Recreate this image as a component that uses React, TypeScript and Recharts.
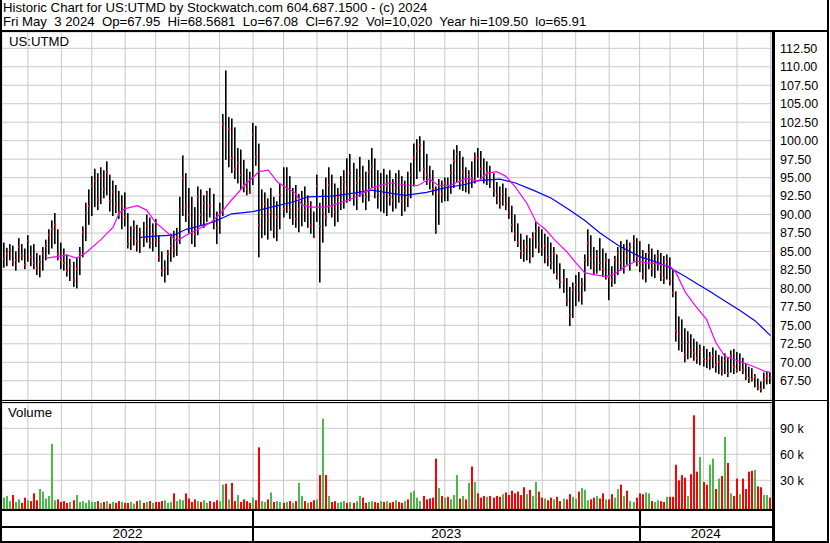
import React from 'react';
import { ComposedChart, Bar, Line, XAxis, YAxis, CartesianGrid } from 'recharts';

// daily bars grouped two trading days per bar, May 2022 - May 2024
const highs = [
  86.2, 85.5, 86.0, 85.8, 85.0, 86.8, 86.0, 85.4, 87.2,
  85.8, 86.0, 84.8, 84.5, 85.6, 86.6, 88.0, 89.2, 90.2, 88.0, 86.2,
  85.4, 84.6, 84.0, 83.6, 84.2, 85.6, 88.4, 91.6, 93.4, 95.2,
  96.2, 95.6, 96.4, 96.0, 97.2, 95.4, 94.6, 94.0, 93.2, 92.6, 93.0,
  90.2, 88.4, 89.2, 88.6, 88.2, 89.0, 90.0, 89.6, 88.8, 89.4,
  87.2, 85.0, 83.8, 85.2, 87.4, 87.8, 88.2, 92.4, 98.0, 95.6, 93.6,
  92.4, 91.0, 93.8, 93.4, 92.6, 93.2, 93.6, 92.8, 90.4, 91.6,
  103.6, 109.5, 103.2, 103.0, 101.8, 99.0, 98.8, 97.4, 96.2, 95.8, 102.4,
  102.0, 99.6, 93.4, 93.0, 92.2, 93.6, 92.4, 91.8, 94.2, 96.4,
  96.4, 95.2, 93.6, 94.0, 92.8, 93.2, 93.8, 92.6, 91.8, 90.4, 95.4,
  91.6, 93.4, 95.0, 96.4, 95.4, 94.2, 93.6, 95.2, 96.0, 97.6,
  98.2, 97.0, 96.2, 97.8, 96.6, 95.8, 97.4, 99.0, 97.6, 96.0, 95.6,
  96.2, 95.4, 96.0, 94.8, 95.6, 96.0, 95.2, 94.6, 95.8, 97.0, 99.6,
  100.2, 100.6, 100.0, 98.2, 96.6, 96.0, 93.8, 94.8, 94.6, 95.0,
  95.0, 96.8, 98.8, 99.4, 98.6, 97.8, 96.4, 96.0, 97.2, 98.4,
  99.0, 98.6, 97.6, 97.2, 96.6, 95.6, 94.4, 93.8, 94.2, 93.6, 92.4,
  91.2, 90.0, 88.8, 87.4, 86.6, 87.2, 86.8, 87.6, 89.0, 88.4, 88.0,
  87.4, 87.0, 86.2, 85.6, 84.6, 83.4, 82.6, 81.4, 80.2, 80.8,
  81.8, 82.2, 81.4, 84.6, 88.0, 87.2, 85.6, 85.2, 86.8, 85.4, 84.8,
  84.0, 83.0, 84.4, 85.6, 86.4, 86.0, 86.6, 86.2, 87.2, 86.8,
  86.4, 85.2, 84.8, 86.0, 85.4, 84.6, 85.2, 84.8, 84.4, 84.6, 84.2,
  82.6, 79.6, 76.2, 75.8, 74.6, 74.2, 73.8, 73.2, 72.8, 72.4,
  72.2, 71.8, 71.4, 72.0, 71.6, 71.0, 70.8, 71.2, 70.6, 71.6, 71.8,
  71.4, 71.2, 70.6, 69.8, 69.4, 69.2, 68.4, 67.8, 67.4, 68.6,
  68.8, 68.57,
];

const lows = [
  82.8, 83.0, 83.8, 83.0, 82.4, 83.5, 83.8, 82.6, 83.6,
  83.0, 82.6, 81.8, 81.5, 82.4, 83.8, 84.6, 85.4, 86.0, 83.8, 82.6,
  82.4, 81.6, 81.0, 80.2, 80.0, 81.8, 84.2, 86.4, 88.6, 89.8,
  91.0, 90.6, 91.4, 92.2, 92.6, 90.4, 89.8, 90.2, 89.4, 88.0, 88.4,
  85.4, 85.2, 85.8, 85.0, 84.8, 85.6, 86.2, 85.4, 85.0, 85.6,
  83.6, 81.6, 80.8, 81.8, 83.6, 84.2, 84.4, 86.0, 89.8, 89.0, 87.4,
  86.0, 85.6, 87.2, 88.6, 88.2, 89.0, 89.6, 88.0, 86.0, 87.4,
  89.8, 97.4, 96.4, 95.6, 94.8, 94.2, 93.4, 93.0, 92.6, 92.8, 94.0,
  96.6, 84.2, 86.8, 87.2, 86.6, 87.8, 86.8, 86.4, 88.0, 89.6,
  90.2, 89.4, 88.6, 88.2, 87.6, 88.4, 89.0, 88.2, 87.4, 86.8, 89.0,
  80.8, 86.2, 88.4, 90.2, 89.6, 88.4, 89.0, 90.6, 90.8, 91.6,
  91.8, 91.2, 90.6, 92.4, 91.6, 90.6, 91.8, 93.6, 92.2, 90.8, 90.4,
  90.2, 89.8, 91.2, 90.4, 90.8, 91.6, 89.8, 90.4, 91.0, 92.2, 93.8,
  94.8, 95.8, 94.6, 94.0, 93.4, 92.6, 87.4, 88.6, 91.6, 91.8,
  91.8, 92.8, 93.6, 94.4, 93.4, 93.2, 93.0, 92.8, 93.6, 94.2,
  95.0, 94.8, 94.2, 94.0, 93.6, 92.4, 91.4, 90.8, 91.2, 90.6, 89.4,
  87.6, 86.4, 85.6, 84.0, 83.6, 83.8, 83.4, 84.2, 85.4, 84.8, 84.4,
  83.4, 83.0, 82.6, 82.0, 81.2, 80.0, 79.4, 77.6, 74.9, 76.0,
  77.6, 78.2, 77.8, 79.6, 83.0, 82.6, 81.8, 82.0, 82.4, 81.6, 81.2,
  78.4, 80.2, 80.6, 81.8, 82.4, 82.0, 83.2, 82.4, 83.6, 83.0,
  82.2, 81.2, 80.8, 82.6, 81.6, 81.4, 82.4, 81.0, 80.6, 81.2, 80.4,
  78.8, 72.8, 71.6, 71.4, 70.0, 70.4, 70.6, 70.2, 69.8, 69.6,
  69.4, 69.2, 69.0, 69.2, 68.6, 68.4, 68.2, 68.4, 68.0, 68.6, 68.4,
  68.6, 68.8, 68.4, 67.6, 67.2, 67.4, 66.6, 66.2, 65.91, 66.4,
  67.0, 67.08,
];

const closes = [
  84.0, 84.6, 85.2, 83.6, 83.8, 85.6, 84.4, 83.2, 86.4,
  84.2, 83.4, 82.8, 83.6, 84.8, 85.8, 87.2, 88.0, 88.6, 84.6, 83.8,
  83.4, 82.4, 83.0, 81.2, 82.6, 84.8, 87.6, 90.2, 91.2, 93.8,
  94.6, 92.0, 95.2, 93.4, 95.8, 91.8, 93.0, 91.4, 90.4, 91.2, 89.6,
  86.0, 86.8, 88.2, 86.4, 87.6, 86.8, 88.4, 86.2, 87.4, 86.6,
  84.2, 82.4, 82.8, 84.6, 85.8, 85.2, 87.0, 90.6, 95.0, 91.2, 90.0,
  88.2, 87.4, 92.4, 90.0, 91.6, 92.8, 91.2, 89.0, 88.2, 90.6,
  102.2, 99.6, 101.6, 97.6, 96.2, 97.0, 95.4, 94.0, 93.4, 93.0, 100.8,
  97.8, 88.6, 89.8, 91.4, 89.2, 90.4, 88.2, 89.6, 92.6, 90.8,
  93.6, 90.6, 91.6, 89.4, 90.8, 92.2, 90.6, 91.4, 88.6, 87.0, 93.8,
  88.4, 90.2, 89.6, 94.0, 91.2, 90.4, 92.4, 93.0, 94.4, 93.6,
  95.6, 92.8, 94.2, 95.0, 93.2, 92.4, 95.8, 96.4, 93.4, 92.8, 93.4,
  92.6, 93.8, 92.4, 92.0, 93.6, 92.6, 91.8, 93.2, 92.4, 95.4, 97.6,
  98.6, 99.4, 96.2, 95.4, 94.6, 93.4, 87.8, 93.0, 92.8, 94.2,
  93.8, 95.6, 97.2, 98.2, 94.6, 95.8, 94.2, 95.4, 95.0, 97.8,
  97.6, 96.2, 95.2, 95.8, 94.4, 93.2, 92.6, 91.6, 92.8, 91.4, 90.2,
  88.6, 87.4, 86.2, 85.0, 84.8, 85.6, 84.4, 86.8, 87.8, 86.0, 85.4,
  85.8, 84.2, 83.4, 84.6, 82.0, 80.8, 81.2, 78.4, 76.4, 79.8,
  80.4, 79.2, 80.6, 83.8, 86.2, 84.0, 83.0, 84.4, 83.4, 82.6, 83.8,
  81.6, 81.2, 83.8, 84.8, 83.4, 85.2, 84.4, 85.6, 86.4, 84.2,
  83.2, 82.0, 84.0, 84.8, 82.6, 83.6, 84.4, 82.2, 81.4, 83.6, 81.0,
  79.4, 74.2, 73.8, 72.6, 71.0, 72.8, 71.6, 71.2, 70.6, 71.8,
  70.4, 70.2, 70.6, 70.8, 69.6, 70.0, 68.8, 70.2, 68.6, 70.8, 69.4,
  69.0, 69.6, 69.0, 68.2, 67.9, 67.8, 68.0, 66.6, 66.4, 67.6,
  68.2, 67.92,
];

// volume in thousands
const volumes = [
  10, 12, 6, 13, 5, 8, 4, 10, 7,
  6, 15, 7, 20, 17, 9, 12, 72, 7, 8, 5,
  6, 4, 5, 7, 13, 5, 6, 4, 7, 5,
  5, 6, 4, 5, 6, 3, 5, 4, 6, 5, 4,
  4, 5, 3, 6, 7, 4, 5, 6, 4, 5,
  5, 6, 7, 4, 5, 15, 6, 8, 7, 15, 9,
  5, 8, 6, 5, 7, 4, 6, 5, 7, 6,
  25, 26, 8, 27, 6, 13, 5, 8, 6, 4, 10,
  7, 68, 6, 5, 8, 16, 5, 6, 5, 4,
  5, 6, 4, 6, 27, 12, 6, 4, 5, 7, 8,
  36, 101, 36, 12, 5, 6, 4, 5, 6, 4,
  5, 4, 6, 12, 10, 4, 5, 6, 5, 4, 6,
  5, 6, 4, 5, 7, 5, 4, 6, 8, 16, 18,
  10, 6, 12, 8, 9, 10, 55, 21, 12, 10,
  11, 8, 13, 36, 9, 12, 8, 27, 46, 28,
  15, 10, 12, 11, 12, 10, 12, 11, 14, 16, 13,
  18, 15, 17, 13, 22, 14, 19, 12, 28, 17, 10,
  9, 7, 10, 8, 11, 6, 9, 8, 14, 11,
  9, 17, 21, 19, 7, 8, 10, 12, 9, 15, 8,
  8, 14, 10, 20, 25, 12, 18, 6, 5, 10,
  15, 14, 16, 15, 6, 5, 7, 6, 5, 11, 11,
  11, 48, 30, 36, 33, 12, 37, 105, 40, 57,
  28, 25, 48, 55, 20, 32, 35, 80, 50, 15, 12,
  32, 14, 32, 20, 40, 41, 42, 23, 22, 13,
  13, 10,
];

// moving averages: [bar, value]
const fastMa: [number, number][] = [
  [14, 84.1], [21, 84.5], [24, 84.1], [27, 84.8], [32, 86.6], [36, 88.3], [38, 90.2],
  [40, 90.8], [44, 91.2], [47, 90.6], [50, 88.9], [54, 87.5], [56, 86.7], [57, 86.4],
  [60, 87.2], [64, 88.0], [68, 88.9], [71, 90.0], [75, 92.0], [80, 94.3], [84, 95.8],
  [87, 96.0], [90, 94.4], [93, 93.6], [96, 92.9], [98, 91.3], [101, 91.0], [106, 91.0],
  [110, 91.5], [116, 92.4], [121, 93.6], [127, 94.3], [132, 94.0], [136, 93.9],
  [140, 94.8], [143, 93.9], [147, 94.0], [152, 94.9], [156, 94.5], [159, 95.6],
  [162, 95.8], [165, 95.2], [168, 93.8], [172, 91.5], [175, 89.0], [178, 88.0],
  [181, 86.6], [185, 85.0], [188, 83.5], [191, 82.1], [195, 81.8], [198, 81.6],
  [201, 82.0], [204, 82.9], [208, 83.7], [211, 83.5], [215, 83.3], [219, 83.0],
  [221, 82.1], [224, 79.5], [227, 77.8], [231, 75.8], [234, 72.7], [237, 70.8],
  [242, 70.1], [246, 69.5], [250, 68.8], [252, 68.6],
];

const slowMa: [number, number][] = [
  [45, 86.9], [51, 87.1], [56, 87.2], [60, 88.0], [64, 88.4], [69, 89.0], [75, 90.1],
  [82, 90.4], [85, 90.7], [88, 91.0], [95, 91.7], [100, 92.4], [108, 92.5], [115, 92.9],
  [121, 93.3], [127, 92.9], [132, 92.6], [139, 93.0], [145, 93.6], [152, 94.1],
  [156, 94.6], [163, 94.8], [168, 94.3], [174, 93.3], [180, 92.2], [186, 90.6],
  [191, 89.2], [196, 87.5], [202, 85.8], [209, 84.3], [215, 83.5], [219, 82.8],
  [224, 81.6], [228, 80.6], [232, 79.6], [237, 78.3], [242, 77.0], [247, 75.6],
  [252, 73.6],
];

const monthStarts = [8, 19, 29, 40, 50, 61, 71, 82, 92, 103, 113, 124, 135, 145, 156, 166, 177, 188, 199, 209, 219, 230, 241, 252];
const yearStarts = [82, 209];
const years = ['2022', '2023', '2024'];
const priceTicks = [67.5, 70, 72.5, 75, 77.5, 80, 82.5, 85, 87.5, 90, 92.5, 95, 97.5, 100, 102.5, 105, 107.5, 110, 112.5];
const volumeTicks = [30, 60, 90];

const FONT = '"Liberation Sans", Arial, sans-serif';
const PLOT_L = 2;
const PLOT_W = 770;
const VOL_BASE = -3.1;

const fastMap = new Map(fastMa);
const slowMap = new Map(slowMa);

const data = closes.map((c, i) => ({
  i,
  high: highs[i],
  low: lows[i],
  close: c,
  range: [lows[i], highs[i]],
  vol: volumes[i],
  volRange: [VOL_BASE, volumes[i]],
  dir: i === 0 ? 1 : Math.sign(c - closes[i - 1]),
  fast: fastMap.has(i) ? fastMap.get(i) : null,
  slow: slowMap.has(i) ? slowMap.get(i) : null,
}));

const OhlcBar = (props: any) => {
  const { x, y, width, height, payload } = props;
  const top = Math.min(y, y + height);
  const h = Math.max(Math.abs(height), 1);
  const cx = Math.round(x + width / 2) - 1;
  const span = payload.high - payload.low;
  const cy = top + (span > 0 ? (payload.high - payload.close) / span : 0) * h;
  return (
    <g>
      <rect x={cx} y={top} width={1.6} height={h} fill="#000" />
      <rect x={cx} y={Math.round(cy) - 1} width={2} height={2} fill="#ff0000" />
    </g>
  );
};

const VolBar = (props: any) => {
  const { x, y, width, height, payload } = props;
  const top = Math.min(y, y + height);
  const h = Math.abs(height);
  const cx = Math.round(x + width / 2) - 1;
  const fill = payload.dir > 0 ? '#4cb84c' : payload.dir < 0 ? '#ff0000' : '#a8a8a8';
  return <rect x={cx} y={top} width={2} height={h} fill={fill} />;
};

const tickStyle = { fontFamily: FONT, fontSize: 12.5, fill: '#000' };

const line = (left: number, top: number, width: number, height: number) => ({
  position: 'absolute' as const, left, top, width, height, background: '#000',
});

const App = () => {
  const band = PLOT_W / data.length;
  const bounds = [PLOT_L, ...yearStarts.map((s) => PLOT_L + (s + 0.5) * band), PLOT_L + PLOT_W];

  return (
    <div style={{ position: 'absolute', left: 0, top: 0, width: 830, height: 543, background: '#fff', fontFamily: FONT, color: '#000', overflow: 'hidden' }}>
      <div style={{ position: 'absolute', left: 3, top: 1, fontSize: 13.2, whiteSpace: 'pre', lineHeight: '14px' }}>
        {'Historic Chart for US:UTMD by Stockwatch.com 604.687.1500 - (c) 2024'}
      </div>
      <div style={{ position: 'absolute', left: 3, top: 15, fontSize: 13.2, whiteSpace: 'pre', lineHeight: '14px' }}>
        {'Fri May  3 2024  Op=67.95  Hi=68.5681  Lo=67.08  Cl=67.92  Vol=10,020  Year hi=109.50  lo=65.91'}
      </div>

      <div style={{ position: 'absolute', left: PLOT_L, top: 32 }}>
        <ComposedChart width={825} height={368} data={data} margin={{ top: 0, right: 0, bottom: 0, left: 0 }} barCategoryGap={0}>
          <CartesianGrid stroke="#c8c8c8" />
          <XAxis dataKey="i" hide ticks={monthStarts} interval={0} />
          <YAxis
            orientation="right"
            width={55}
            type="number"
            domain={[64.89, 114.71]}
            allowDataOverflow
            ticks={priceTicks}
            interval={0}
            axisLine={false}
            tickLine={false}
            tick={tickStyle}
            tickFormatter={(v: number) => v.toFixed(2)}
          />
          <Bar dataKey="range" shape={<OhlcBar />} isAnimationActive={false} />
          <Line dataKey="slow" type="linear" stroke="#0000ff" strokeWidth={1.2} dot={false} connectNulls isAnimationActive={false} />
          <Line dataKey="fast" type="linear" stroke="#ff00ff" strokeWidth={1.2} dot={false} connectNulls isAnimationActive={false} />
        </ComposedChart>
      </div>

      <div style={{ position: 'absolute', left: PLOT_L, top: 403 }}>
        <ComposedChart width={825} height={106} data={data} margin={{ top: 0, right: 0, bottom: 0, left: 0 }} barCategoryGap={0}>
          <CartesianGrid stroke="#c8c8c8" />
          <XAxis dataKey="i" hide ticks={monthStarts} interval={0} />
          <YAxis
            orientation="right"
            width={55}
            type="number"
            domain={[VOL_BASE, 119.2]}
            allowDataOverflow
            ticks={volumeTicks}
            interval={0}
            axisLine={false}
            tickLine={false}
            tick={tickStyle}
            tickFormatter={(v: number) => `${v} k`}
          />
          <Bar dataKey="volRange" shape={<VolBar />} isAnimationActive={false} />
        </ComposedChart>
      </div>

      <div style={{ position: 'absolute', left: 9, top: 34, fontSize: 13.2 }}>US:UTMD</div>
      <div style={{ position: 'absolute', left: 8, top: 405, fontSize: 13.2 }}>Volume</div>

      {years.map((y, k) => (
        <div key={y} style={{ position: 'absolute', left: bounds[k], width: bounds[k + 1] - bounds[k], top: 527, textAlign: 'center', fontSize: 13.5, lineHeight: '14px' }}>
          {y}
        </div>
      ))}
      {yearStarts.map((s) => (
        <div key={s} style={line(Math.round(PLOT_L + (s + 0.5) * band) - 1, 511, 2, 30)} />
      ))}

      <div style={line(0, 0, 2, 543)} />
      <div style={line(827, 0, 2, 543)} />
      <div style={line(0, 30, 829, 2)} />
      <div style={line(772, 30, 3, 513)} />
      <div style={line(0, 400, 772, 1)} />
      <div style={line(0, 402, 772, 1)} />
      <div style={line(772, 400, 57, 1)} />
      <div style={line(0, 509, 772, 2)} />
      <div style={line(0, 526, 772, 2)} />
      <div style={line(0, 541, 829, 2)} />
    </div>
  );
};

export default App;
